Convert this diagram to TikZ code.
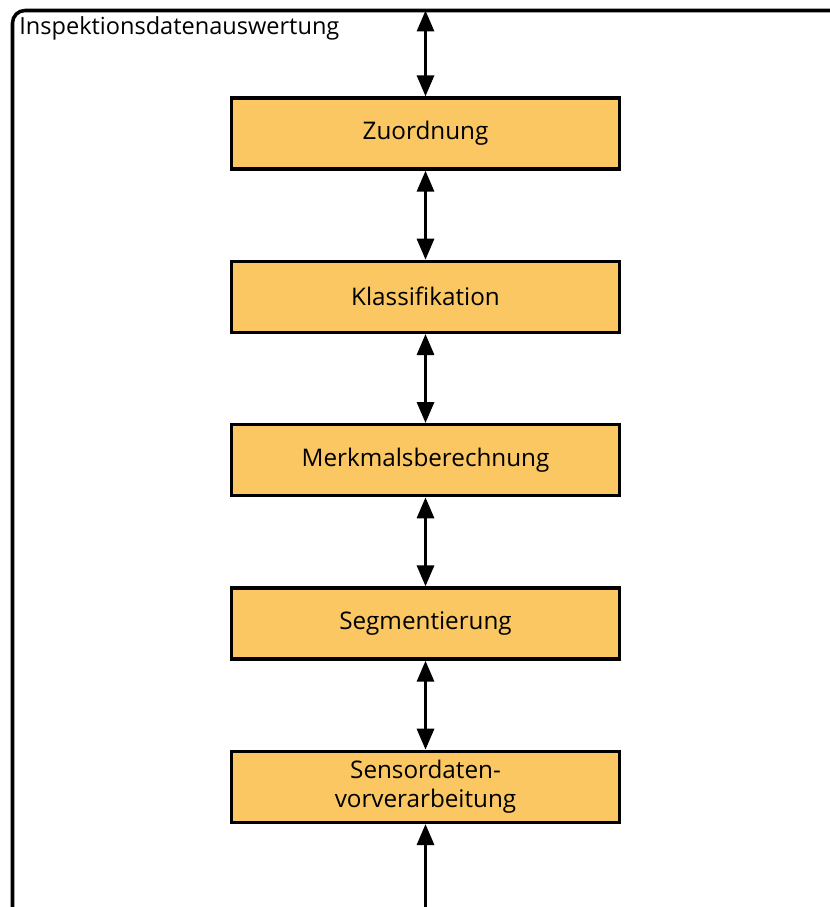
\documentclass[tikz,border=0pt]{standalone}
\usepackage{fontspec}
\setmainfont{Open Sans}
\usepackage{xcolor}
\usetikzlibrary{positioning,arrows.meta}
\definecolor{stepfill}{RGB}{250,199,99}
\tikzset{
    stepbox/.style={rectangle, draw, line width=1.9pt, fill=stepfill, minimum width=7.76cm, minimum height=1.42cm, text width=7.4cm, align=center, font=\fontsize{13.8}{16.5}\selectfont, inner sep=0pt},
    link/.style={line width=1.8pt, {Triangle[length=0.42cm,width=0.34cm]}-{Triangle[length=0.42cm,width=0.34cm]}},
    uplink/.style={line width=1.8pt, -{Triangle[length=0.42cm,width=0.34cm]}}
}

\begin{document}
\begin{tikzpicture}
    \useasboundingbox (0,0) rectangle (16.58,-18.14);
    % outer frame
    \draw[line width=2pt, rounded corners=0.25cm] (0.25,-18.3) -- (0.25,-0.21) -- (16.8,-0.21);
    \node(title) [anchor=base west, font=\fontsize{13.4}{16}\selectfont, inner sep=0pt] at (0.38,-0.7) {Inspektionsdatenauswertung};

    \node(zuordnung) [stepbox] at (8.51,-2.67) {Zuordnung};
    \node(klassifikation) [stepbox, below=1.78cm of zuordnung] {Klassifikation};
    \node(merkmal) [stepbox, below=1.78cm of klassifikation] {Merkmalsberechnung};
    \node(segment) [stepbox, below=1.78cm of merkmal] {Segmentierung};
    \node(vorverarb) [stepbox, below=1.78cm of segment] {Sensordaten-\\vorverarbeitung};

    \coordinate(oben) at (8.51,-0.21);
    \coordinate(unten) at (8.51,-18.14);

    \draw[link] (oben) -- (zuordnung);
    \draw[link] (zuordnung) -- (klassifikation);
    \draw[link] (klassifikation) -- (merkmal);
    \draw[link] (merkmal) -- (segment);
    \draw[link] (segment) -- (vorverarb);
    \draw[uplink] (unten) -- (vorverarb);
\end{tikzpicture}
\end{document}
